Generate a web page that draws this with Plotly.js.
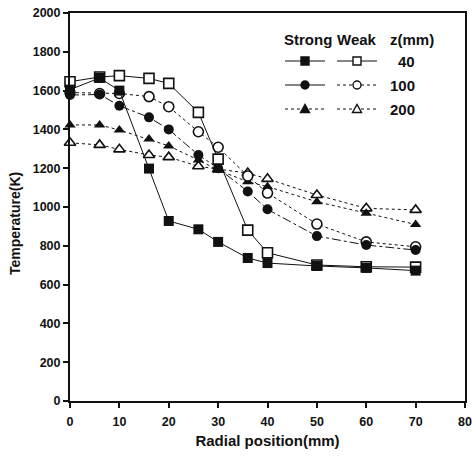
<!DOCTYPE html>
<html>
<head>
<meta charset="utf-8">
<script src="https://cdn.plot.ly/plotly-3.0.1.min.js"></script>
<style>html,body{margin:0;padding:0;background:#fff;}#chart{width:472px;height:456px;}</style>
</head>
<body>
<div id="chart"></div>
<script>
// Radial position (mm)
const radialPos = [0, 6, 10, 16, 20, 26, 30, 36, 40, 50, 60, 70];
// Temperature (K)
const strong40  = [1605, 1665, 1600, 1198, 928, 885, 820, 737, 711, 696, 686, 672];
const weak40    = [1646, 1670, 1677, 1663, 1637, 1488, 1247, 881, 764, 701, 692, 690];
const strong100 = [1577, 1580, 1522, 1462, 1400, 1268, 1200, 1080, 988, 850, 804, 778];
const weak100   = [1590, 1585, 1585, 1569, 1517, 1388, 1308, 1160, 1072, 912, 820, 795];
const strong200 = [1423, 1423, 1397, 1350, 1315, 1242, 1190, 1130, 1105, 1027, 968, 910];
const weak200   = [1331, 1320, 1297, 1268, 1257, 1210, 1195, 1175, 1145, 1062, 993, 985];

const xTicks = [0, 10, 20, 30, 40, 50, 60, 70, 80];
const yTicks = [0, 200, 400, 600, 800, 1000, 1200, 1400, 1600, 1800, 2000];
const zLabels = ['40', '100', '200'];
const headerLabels = ['Strong', 'Weak', 'z(mm)'];

const INK = '#111';
const FONT = 'Arial, "Liberation Sans", Helvetica, sans-serif';

function trace(y, symbol, open, dash, size) {
  return {
    x: radialPos, y: y, type: 'scatter', mode: 'lines+markers', cliponaxis: false,
    line: {color: INK, width: 1, dash: dash},
    marker: {symbol: symbol, size: size, color: open ? '#fff' : INK,
             line: {color: INK, width: open ? 1.6 : 0}},
    showlegend: false, hoverinfo: 'x+y'
  };
}

const data = [
  trace(weak200, 'triangle-up', true, 'dot', 10),
  trace(strong200, 'triangle-up', false, 'dot', 10),
  trace(weak100, 'circle', true, 'dot', 10),
  trace(strong100, 'circle', false, 'dashdot', 10),
  trace(weak40, 'square', true, 'solid', 10),
  trace(strong40, 'square', false, 'solid', 10)
];

// pixel -> paper helpers for legend drawing (plot area: x 70..465, y 13..401)
const L = 70, R = 465, T = 13, B = 401;
const px = p => (p - L) / (R - L);
const py = p => (B - p) / (B - T);

const shapes = [];
const annotations = [];

// header
const headerX = [308, 357, 412];
headerLabels.forEach((t, i) => annotations.push({
  text: '<b>' + t + '</b>', x: px(headerX[i]), y: py(40), xref: 'paper', yref: 'paper',
  xanchor: 'center', yanchor: 'middle', showarrow: false,
  font: {family: FONT, size: 15, color: INK}
}));

const rowY = [61, 85, 109];
const strongStyle = [['square', 'solid'], ['circle', 'solid'], ['triangle', 'dot']];
const weakStyle = [['square', 'solid'], ['circle', 'dot'], ['triangle', 'dot']];

function legendMarker(kind, cx, cy, filled) {
  const base = {xref: 'paper', yref: 'paper', xsizemode: 'pixel', ysizemode: 'pixel',
    xanchor: px(cx), yanchor: py(cy), line: {color: INK, width: 1.4},
    fillcolor: filled ? INK : '#fff', layer: 'above'};
  if (kind === 'square') return Object.assign({type: 'rect', x0: -4, x1: 4, y0: -4, y1: 4}, base);
  if (kind === 'circle') return Object.assign({type: 'circle', x0: -4, x1: 4, y0: -4, y1: 4}, base);
  return Object.assign({type: 'path', path: 'M-4.5,-3.5 L4.5,-3.5 L0,4.5 Z'}, base);
}
function legendLine(x0, x1, y, dash) {
  return {type: 'line', xref: 'paper', yref: 'paper', x0: px(x0), x1: px(x1), y0: py(y), y1: py(y),
    line: {color: INK, width: 1.2, dash: dash}, layer: 'above'};
}

rowY.forEach((yy, i) => {
  shapes.push(legendLine(285, 325, yy, strongStyle[i][1]));
  shapes.push(legendMarker(strongStyle[i][0], 305, yy, true));
  shapes.push(legendLine(337, 377, yy, weakStyle[i][1]));
  shapes.push(legendMarker(weakStyle[i][0], 357, yy, false));
  annotations.push({
    text: '<b>' + zLabels[i] + '</b>', x: px(417), y: py(yy), xref: 'paper', yref: 'paper',
    xanchor: 'right', yanchor: 'middle', showarrow: false,
    font: {family: FONT, size: 15, color: INK}
  });
});

// y-axis title (placed as in the reference, slightly below the axis centre)
annotations.push({
  text: '<b>Temperature(K)</b>', x: px(15), y: py(224), xref: 'paper', yref: 'paper',
  xanchor: 'center', yanchor: 'middle', textangle: -90, showarrow: false,
  font: {family: FONT, size: 14, color: INK}
});

const axisCommon = {
  showline: true, linewidth: 2, linecolor: INK, mirror: true,
  ticks: 'outside', ticklen: 5, tickwidth: 2, tickcolor: INK,
  showgrid: false, zeroline: false,
  tickfont: {family: FONT, size: 12.5, color: INK, weight: 'bold'}
};

const layout = {
  width: 472, height: 456,
  margin: {l: L, r: 472 - R, t: T, b: 456 - B},
  paper_bgcolor: '#fff', plot_bgcolor: '#fff',
  font: {family: FONT, color: INK},
  xaxis: Object.assign({}, axisCommon, {
    range: [0, 80], tickvals: xTicks, ticktext: xTicks.map(String), ticklabelstandoff: 3,
    title: {text: 'Radial position(mm)', font: {family: FONT, size: 15, color: INK, weight: 'bold'}, standoff: 7}
  }),
  yaxis: Object.assign({}, axisCommon, {
    range: [0, 2000], tickvals: yTicks, ticktext: yTicks.map(String)
  }),
  shapes: shapes,
  annotations: annotations,
  showlegend: false
};

Plotly.newPlot('chart', data, layout, {displayModeBar: false, staticPlot: true});
</script>
</body>
</html>
